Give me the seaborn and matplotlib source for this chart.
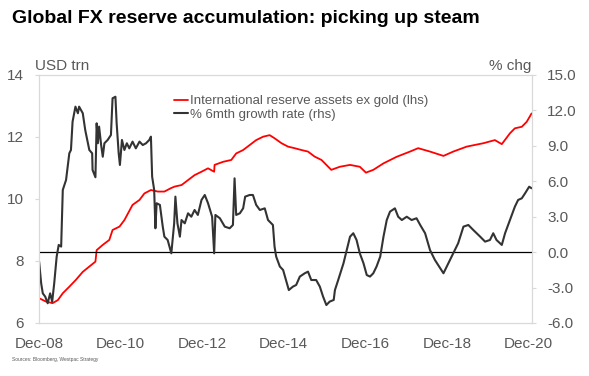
import pandas as pd
import matplotlib.pyplot as plt
import seaborn as sns
from matplotlib.lines import Line2D

# time axis in decimal years (Dec-08 = 2008.917)
reserve_years = [2008.92, 2009.09, 2009.25, 2009.38, 2009.50, 2009.66, 2009.82, 2009.99, 2010.15, 2010.30,
                 2010.33, 2010.48, 2010.64, 2010.72, 2010.89, 2011.01, 2011.21, 2011.38, 2011.50, 2011.66,
                 2011.83, 2011.99, 2012.15, 2012.24, 2012.41, 2012.57, 2012.73, 2012.90, 2013.06, 2013.21,
                 2013.22, 2013.43, 2013.63, 2013.75, 2013.92, 2014.08, 2014.24, 2014.41, 2014.57, 2014.69,
                 2014.86, 2015.02, 2015.18, 2015.35, 2015.51, 2015.67, 2015.84, 2015.96, 2016.08, 2016.29,
                 2016.54, 2016.78, 2016.93, 2017.11, 2017.36, 2017.68, 2018.01, 2018.21, 2018.50, 2018.83,
                 2019.07, 2019.40, 2019.81, 2020.09, 2020.26, 2020.46, 2020.58, 2020.75, 2020.87, 2020.99]
# International reserve assets ex gold, USD trn (lhs)
reserve_values = [6.80, 6.69, 6.64, 6.74, 6.96, 7.17, 7.39, 7.65, 7.82, 7.98,
                  8.35, 8.52, 8.68, 9.00, 9.11, 9.32, 9.81, 9.97, 10.18, 10.29,
                  10.24, 10.24, 10.35, 10.40, 10.45, 10.61, 10.77, 10.88, 10.99, 10.88,
                  11.10, 11.20, 11.26, 11.47, 11.58, 11.74, 11.90, 12.01, 12.06, 11.96,
                  11.80, 11.69, 11.64, 11.58, 11.53, 11.37, 11.26, 11.10, 10.94, 11.04,
                  11.10, 11.04, 10.85, 10.94, 11.15, 11.36, 11.53, 11.64, 11.53, 11.39,
                  11.53, 11.69, 11.80, 11.90, 11.77, 12.12, 12.28, 12.33, 12.49, 12.76]

growth_years = [2008.92, 2008.97, 2009.01, 2009.07, 2009.13, 2009.19, 2009.24, 2009.29, 2009.35, 2009.40,
                2009.46, 2009.50, 2009.58, 2009.66, 2009.70, 2009.74, 2009.81, 2009.87, 2009.90, 2009.99,
                2010.05, 2010.15, 2010.22, 2010.23, 2010.30, 2010.33, 2010.36, 2010.39, 2010.44, 2010.48,
                2010.52, 2010.60, 2010.68, 2010.72, 2010.79, 2010.82, 2010.87, 2010.90, 2010.95, 2011.01,
                2011.07, 2011.13, 2011.21, 2011.29, 2011.38, 2011.46, 2011.54, 2011.62, 2011.66, 2011.69,
                2011.74, 2011.77, 2011.80, 2011.88, 2011.95, 2011.99, 2012.07, 2012.16, 2012.23, 2012.26,
                2012.31, 2012.37, 2012.41, 2012.49, 2012.57, 2012.65, 2012.73, 2012.81, 2012.90, 2012.98,
                2013.06, 2013.16, 2013.21, 2013.24, 2013.35, 2013.47, 2013.59, 2013.67, 2013.71, 2013.75,
                2013.84, 2013.92, 2013.97, 2014.08, 2014.16, 2014.24, 2014.33, 2014.45, 2014.53, 2014.65,
                2014.69, 2014.73, 2014.82, 2014.90, 2014.98, 2015.04, 2015.14, 2015.22, 2015.31, 2015.43,
                2015.51, 2015.59, 2015.71, 2015.80, 2015.88, 2015.96, 2016.04, 2016.14, 2016.17, 2016.25,
                2016.38, 2016.46, 2016.54, 2016.62, 2016.70, 2016.78, 2016.87, 2016.95, 2017.03, 2017.11,
                2017.19, 2017.28, 2017.36, 2017.44, 2017.52, 2017.64, 2017.72, 2017.81, 2017.93, 2018.05,
                2018.17, 2018.26, 2018.38, 2018.50, 2018.62, 2018.75, 2018.83, 2018.95, 2019.07, 2019.19,
                2019.32, 2019.44, 2019.56, 2019.73, 2019.85, 2019.97, 2020.05, 2020.13, 2020.26, 2020.34,
                2020.46, 2020.58, 2020.66, 2020.75, 2020.83, 2020.93, 2020.99]
# % 6mth growth rate (rhs)
growth_values = [-0.81, -2.64, -3.49, -3.77, -4.33, -3.49, -4.19, -2.64, -0.38, 0.61,
                 0.47, 5.27, 6.11, 8.37, 8.65, 11.05, 12.32, 11.76, 12.32, 11.76,
                 10.34, 8.65, 8.37, 6.96, 6.34, 10.91, 9.22, 10.63, 9.07, 8.08,
                 9.22, 9.50, 9.92, 13.03, 13.16, 10.91, 8.37, 7.38, 9.50, 8.65,
                 9.22, 8.79, 9.36, 8.79, 9.36, 9.07, 9.22, 9.50, 9.78, 6.39,
                 5.27, 2.02, 4.14, 4.00, 2.16, 1.31, 1.03, -0.10, 2.44, 4.70,
                 2.44, 1.31, 2.72, 2.44, 3.29, 3.00, 3.57, 3.15, 4.42, 4.84,
                 4.14, 3.00, -0.10, 3.15, 2.87, 2.16, 2.02, 2.30, 6.25, 3.15,
                 3.29, 3.71, 4.70, 4.84, 4.84, 4.00, 3.57, 3.71, 2.72, 2.30,
                 0.47, -0.38, -1.22, -1.51, -2.50, -3.21, -2.92, -2.78, -2.07, -1.79,
                 -1.65, -2.36, -2.36, -2.92, -3.77, -4.48, -4.19, -4.05, -3.21, -2.36,
                 -0.94, 0.18, 1.31, 1.60, 1.03, -0.10, -0.94, -1.94, -2.07, -1.79,
                 -1.22, -0.38, 1.31, 2.72, 3.43, 3.71, 3.00, 2.72, 3.00, 2.72,
                 2.87, 2.30, 1.60, 0.18, -0.66, -1.37, -1.79, -0.94, -0.10, 0.75,
                 2.16, 2.30, 1.88, 1.31, 0.89, 1.03, 1.60, 1.03, 0.61, 1.60,
                 2.72, 3.85, 4.42, 4.56, 4.98, 5.54, 5.41]

x_ticks = [2008.917, 2010.917, 2012.917, 2014.917, 2016.917, 2018.917, 2020.917]
x_tick_labels = ["Dec-08", "Dec-10", "Dec-12", "Dec-14", "Dec-16", "Dec-18", "Dec-20"]
lhs_ticks = [6, 8, 10, 12, 14]
rhs_ticks = [-6, -3, 0, 3, 6, 9, 12, 15]

reserves = pd.DataFrame({"year": reserve_years, "value": reserve_values})
growth = pd.DataFrame({"year": growth_years, "value": growth_values})

sns.set_style("white")
plt.rcParams["font.family"] = ["Liberation Sans", "DejaVu Sans"]

grey = "#595959"
spine_grey = "#d9d9d9"

fig = plt.figure(figsize=(5.89, 3.76), dpi=100)
ax = fig.add_axes([39 / 589, 1 - 323 / 376, 493 / 589, 248 / 376])
ax2 = ax.twinx()

sns.lineplot(data=reserves, x="year", y="value", ax=ax, color="#ff0000", linewidth=1.3)
ax2.axhline(0, color="#000000", linewidth=0.9)
sns.lineplot(data=growth, x="year", y="value", ax=ax2, color="#333333", linewidth=1.5)

ax.set_xlim(2008.917, 2021.0)
ax.set_ylim(6, 14)
ax2.set_ylim(-6, 15)
ax.set_xticks(x_ticks)
ax.set_xticklabels(x_tick_labels)
ax.set_yticks(lhs_ticks)
ax.set_yticklabels([str(t) for t in lhs_ticks])
ax2.set_yticks(rhs_ticks)
ax2.set_yticklabels([f"{t:.1f}" for t in rhs_ticks])
for a in (ax, ax2):
    a.set_xlabel("")
    a.set_ylabel("")
    for s in a.spines.values():
        s.set_color(spine_grey)
        s.set_linewidth(0.8)
ax.tick_params(axis="x", direction="in", length=4, color=spine_grey, labelsize=11, labelcolor=grey, pad=10)
ax.tick_params(axis="y", direction="out", length=3, color=spine_grey, labelsize=11, labelcolor=grey, pad=8)
ax2.tick_params(axis="y", direction="out", length=3, color=spine_grey, labelsize=11, labelcolor=grey, pad=8)

handles = [Line2D([], [], color="#ff0000", linewidth=1.3),
           Line2D([], [], color="#333333", linewidth=1.5)]
labels = ["International reserve assets ex gold (lhs)", "% 6mth growth rate (rhs)"]
ax.legend(handles, labels, loc="upper left", bbox_to_anchor=(0.263, 0.94), frameon=False,
          fontsize=9.5, labelcolor=grey, handlelength=1.1, handletextpad=0.1, labelspacing=0.1,
          borderaxespad=0)

fig.text(12 / 589, 1 - 23 / 376, "Global FX reserve accumulation: picking up steam", ha="left", va="baseline",
         fontsize=14, fontweight="bold", color="black")
fig.text(35 / 589, 1 - 66 / 376, "USD trn", ha="left", va="center", fontsize=11, color=grey)
fig.text(531 / 589, 1 - 66 / 376, "% chg", ha="right", va="center", fontsize=11, color=grey)
fig.text(12 / 589, 1 - 359 / 376, "Sources: Bloomberg, Westpac Strategy", ha="left", va="center",
         fontsize=3.5, color=grey)

fig.savefig("out.png", dpi=100)
